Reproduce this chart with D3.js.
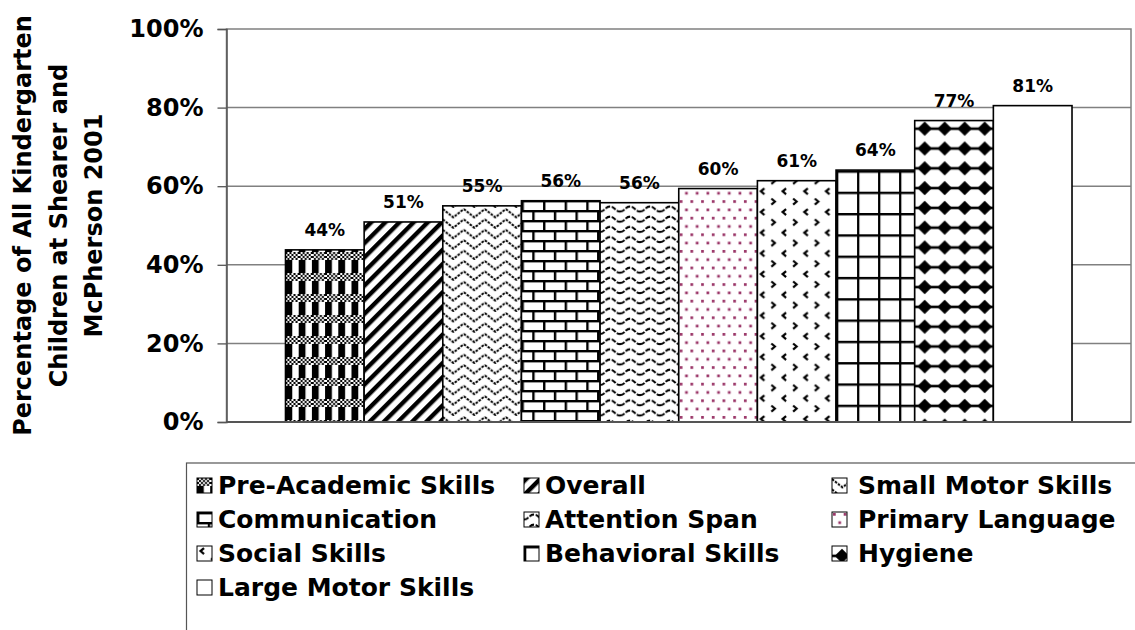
<!DOCTYPE html>
<html><head><meta charset="utf-8">
<script src="https://cdn.jsdelivr.net/npm/d3@7"></script>
<style>
body{margin:0;background:#fff;}
svg text{font-family:"DejaVu Sans",sans-serif;font-weight:bold;fill:#000;}
</style></head><body>
<svg id="chart" width="1135" height="630"></svg>
<script>
const categories = ["Pre-Academic Skills","Overall","Small Motor Skills","Communication","Attention Span","Primary Language","Social Skills","Behavioral Skills","Hygiene","Large Motor Skills"];
const values = [0.438,0.509,0.550,0.563,0.558,0.594,0.614,0.641,0.767,0.805];
const valueLabels = ["44%","51%","55%","56%","56%","60%","61%","64%","77%","81%"];
const yTicks = [0,0.2,0.4,0.6,0.8,1.0];
const yTitleLines = ["Percentage of All Kindergarten","Children at Shearer and","McPherson 2001"];
const patternIds = ["pCheck","pDiag","pZig","pBrick","pWave","pDots","pSocial","pGrid","pDiamond","pPlain"];

const svg = d3.select("#chart");
const defs = svg.append("defs");
function pat(id,w,h){
  const p = defs.append("pattern").attr("id",id).attr("patternUnits","userSpaceOnUse").attr("width",w).attr("height",h);
  p.append("rect").attr("width",w).attr("height",h).attr("fill","#fff");
  return p;
}
// checker
{
  const p = pat("pCheck",13.2,21);
  for(let i=0;i<7;i++)for(let j=0;j<4;j++) if((i+j)%2===0) p.append("rect").attr("x",i*2).attr("y",j*2).attr("width",2).attr("height",2).attr("fill","#000");
  p.append("rect").attr("x",0).attr("y",8).attr("width",6.8).attr("height",13).attr("fill","#000");
}
// diagonal
{
  const p = pat("pDiag",10,10).attr("patternTransform","rotate(45)");
  p.append("rect").attr("x",0).attr("y",0).attr("width",4.4).attr("height",10).attr("fill","#000");
}
// zigzag
{
  const p = pat("pZig",21,10.4);
  p.append("path").attr("d","M0,1 L10.5,9.4 L21,1").attr("stroke","#000").attr("stroke-width",2)
    .attr("fill","none").attr("stroke-dasharray","2.6 1.2");
}
// bricks
{
  const p = pat("pBrick",21.6,20);
  p.append("rect").attr("x",0).attr("y",0).attr("width",21.6).attr("height",2.4).attr("fill","#000");
  p.append("rect").attr("x",0).attr("y",10).attr("width",21.6).attr("height",2.4).attr("fill","#000");
  p.append("rect").attr("x",0).attr("y",0).attr("width",2.4).attr("height",10).attr("fill","#000");
  p.append("rect").attr("x",10.8).attr("y",10).attr("width",2.4).attr("height",10).attr("fill","#000");
}
// wave
{
  const p = pat("pWave",20,10.2);
  p.append("path").attr("d","M0,7.5 C5,7.5 5,2.5 10,2.5 C15,2.5 15,7.5 20,7.5").attr("stroke","#000").attr("stroke-width",2)
    .attr("fill","none").attr("stroke-dasharray","5 1.5");
}
// dots
{
  const p = pat("pDots",10.7,16.6);
  p.append("rect").attr("x",1).attr("y",1).attr("width",2.7).attr("height",2.7).attr("fill","#993366");
  p.append("rect").attr("x",6.35).attr("y",9.3).attr("width",2.7).attr("height",2.7).attr("fill","#993366");
}
// social
{
  const p = pat("pSocial",21.7,20.7);
  p.append("path").attr("d","M7,2 L3.5,5 L7,8").attr("stroke","#000").attr("stroke-width",2.2).attr("fill","none");
  p.append("path").attr("d","M14,12.3 L17.5,15.3 L14,18.3").attr("stroke","#000").attr("stroke-width",2.2).attr("fill","none");
}
// grid
{
  const p = pat("pGrid",21,21.3);
  p.append("rect").attr("x",0).attr("y",0).attr("width",21).attr("height",2.4).attr("fill","#000");
  p.append("rect").attr("x",0).attr("y",0).attr("width",2.3).attr("height",21.3).attr("fill","#000");
}
// diamonds
{
  const p = pat("pDiamond",20,19.8);
  p.append("rect").attr("x",0).attr("y",8.6).attr("width",20).attr("height",2.6).attr("fill","#000");
  p.append("path").attr("d","M10,2.6 L17.3,9.9 L10,17.2 L2.7,9.9 Z").attr("fill","#000");
}
pat("pPlain",10,10);

const pLeft=226.5, pRight=1131, pTop=29, pBottom=422;
const x = d3.scaleBand().domain(categories).range([pLeft,pRight]).paddingInner(0).paddingOuter(0.75);
const y = d3.scaleLinear().domain([0,1]).range([pBottom,pTop]);

// plot area
svg.append("rect").attr("x",pLeft).attr("y",pTop).attr("width",pRight-pLeft).attr("height",pBottom-pTop)
  .attr("fill","#fff").attr("stroke","#808080").attr("stroke-width",1.5);
svg.append("g").selectAll("line").data(yTicks.filter(d=>d>0&&d<1)).join("line")
  .attr("x1",pLeft).attr("x2",pRight).attr("y1",d=>y(d)).attr("y2",d=>y(d))
  .attr("stroke","#808080").attr("stroke-width",1.5);

// bars (pattern anchored at each bar's left edge)
const bars = svg.append("g").selectAll("g").data(categories).join("g")
  .attr("transform",d=>`translate(${x(d)},0)`);
bars.append("rect").attr("x",0).attr("y",(d,i)=>y(values[i])).attr("width",x.bandwidth())
  .attr("height",(d,i)=>pBottom-y(values[i]))
  .attr("fill",(d,i)=>`url(#${patternIds[i]})`).attr("stroke","#000").attr("stroke-width",1.6);

// labels
svg.append("g").selectAll("text").data(categories).join("text")
  .attr("x",d=>x(d)+x.bandwidth()/2).attr("y",(d,i)=>y(values[i])-14)
  .attr("text-anchor","middle").style("font-size","17px").text((d,i)=>valueLabels[i]);

// axis
const yAxis = svg.append("g").attr("transform",`translate(${pLeft},0)`)
  .call(d3.axisLeft(y).tickValues(yTicks).tickFormat(d3.format(".0%")).tickSize(9).tickPadding(14));
yAxis.attr("font-family",null).attr("font-size",null);
yAxis.select(".domain").attr("stroke","#555").attr("stroke-width",1.5);
yAxis.selectAll(".tick line").attr("stroke","#555").attr("stroke-width",1.3);
yAxis.selectAll(".tick text").style("font-size","24px");
svg.append("line").attr("x1",pLeft).attr("x2",pRight).attr("y1",pBottom).attr("y2",pBottom).attr("stroke","#555").attr("stroke-width",2);

// y title
const tt = svg.append("text").attr("transform","translate(0,225.5) rotate(-90)").attr("text-anchor","middle").style("font-size","24px");
tt.selectAll("tspan").data(yTitleLines).join("tspan").attr("x",0).attr("y",(d,i)=>[31,67,102][i]).text(d=>d);

// legend
svg.append("rect").attr("x",186.5).attr("y",463).attr("width",1000).attr("height",200).attr("fill","#fff").attr("stroke","#555").attr("stroke-width",1.2);
const colIcon=[197,524,832], colText=[218,545,858], rowBase=[494,528,562,596];
const lg = svg.append("g").selectAll("g").data(categories).join("g");
lg.append("g").attr("transform",(d,i)=>`translate(${colIcon[i%3]},${rowBase[Math.floor(i/3)]-16})`)
  .append("rect").attr("x",0).attr("y",0).attr("width",15).attr("height",15)
  .attr("fill",(d,i)=>`url(#${patternIds[i]})`).attr("stroke","#000").attr("stroke-width",1);
lg.append("text").attr("x",(d,i)=>colText[i%3]).attr("y",(d,i)=>rowBase[Math.floor(i/3)]).style("font-size","25px").text(d=>d);
</script>
</body></html>
